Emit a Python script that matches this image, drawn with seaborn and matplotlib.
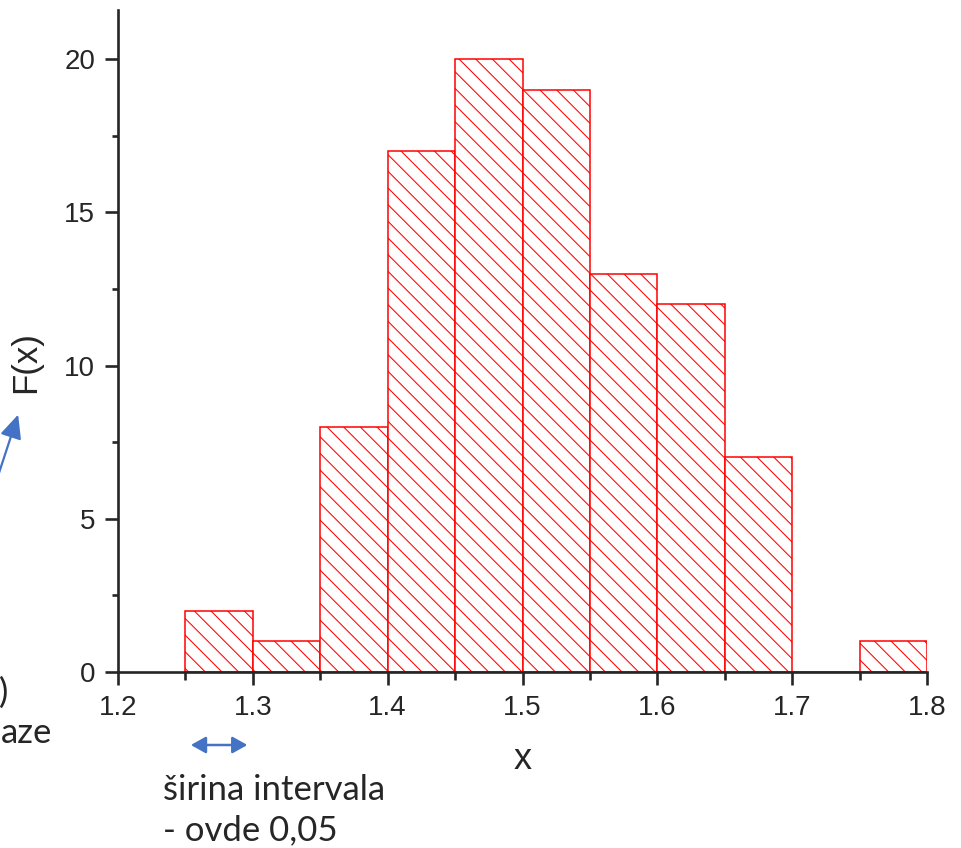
import numpy as np
import pandas as pd
import matplotlib
matplotlib.use('Agg')
import matplotlib.pyplot as plt
import seaborn as sns

sns.set_theme(style="ticks")
plt.rcParams['font.family'] = ['Liberation Sans', 'DejaVu Sans']
plt.rcParams['hatch.color'] = 'red'
plt.rcParams['hatch.linewidth'] = 0.75

# datos: bordes de los intervalos y frecuencias
bordes = [1.25, 1.30, 1.35, 1.40, 1.45, 1.50, 1.55, 1.60, 1.65, 1.70, 1.75, 1.80]
frecuencias = [2, 1, 8, 17, 20, 19, 13, 12, 7, 0, 1]
centros = [(a + b) / 2 for a, b in zip(bordes[:-1], bordes[1:])]

df = pd.DataFrame({'x': centros, 'F': frecuencias})

W, H, DPI = 961, 848, 100
fig = plt.figure(figsize=(W / DPI, H / DPI), dpi=DPI)
ax = fig.add_axes([118 / W, 1 - 672 / H, (927 - 118) / W, (672 - 10) / H])

sns.histplot(data=df, x='x', weights='F', bins=bordes, ax=ax,
             color='white', edgecolor='red', linewidth=1.1, alpha=1,
             hatch='\\\\')

ax.set_xlim(1.2, 1.8)
ax.set_ylim(0, 21.6)
ax.set_xticks([1.2, 1.3, 1.4, 1.5, 1.6, 1.7, 1.8])
ax.set_xticks(np.arange(1.25, 1.8, 0.1), minor=True)
ax.set_yticks([0, 5, 10, 15, 20])
ax.set_yticks([2.5, 7.5, 12.5, 17.5], minor=True)
ax.set_xticklabels(['1.2', '1.3', '1.4', '1.5', '1.6', '1.7', '1.8'])

sns.despine(ax=ax)
for s in ['left', 'bottom']:
    ax.spines[s].set_linewidth(1.9)
ax.tick_params(which='major', length=9.5, width=1.9, labelsize=20, pad=7)
ax.tick_params(which='minor', length=4.5, width=1.9)
ax.tick_params(axis='x', which='minor', length=6)
ax.grid(False)

ax.set_xlabel('x', fontsize=26)
ax.set_ylabel('F(x)', fontsize=25)
ax.xaxis.set_label_coords(0.5, (672 - 742) / (672 - 10), transform=ax.transAxes)
ax.yaxis.set_label_coords((42 - 118) / (927 - 118), (672 - 362) / (672 - 10), transform=ax.transAxes)

azul = '#4472C4'
fuente_txt = ['Lato', 'DejaVu Sans']

# flecha hacia F(x)
ax.annotate('', xy=(19 / W, 1 - 412 / H), xytext=(-4 / W, 1 - 482 / H),
            xycoords='figure fraction', textcoords='figure fraction',
            arrowprops=dict(arrowstyle='-|>,head_length=1.2,head_width=0.55',
                            color=azul, lw=1.6))

# flecha doble: ancho del intervalo
ax.annotate('', xy=(bordes[1] - 0.002, 1 - 745 / H), xytext=(bordes[0] + 0.002, 1 - 745 / H),
            xycoords=('data', 'figure fraction'), textcoords=('data', 'figure fraction'),
            arrowprops=dict(arrowstyle='<|-|>,head_length=0.75,head_width=0.42',
                            color=azul, lw=1.8), annotation_clip=False)

fig.text(163 / W, 1 - 790 / H, 'širina intervala', fontsize=25, family=fuente_txt,
         ha='left', va='center')
fig.text(163 / W, 1 - 830 / H, '- ovde 0,05', fontsize=25, family=fuente_txt,
         ha='left', va='center')

# texto recortado a la izquierda
fig.text(8 / W, 1 - 693 / H, ')', fontsize=25, family=fuente_txt, ha='right', va='center')
fig.text(1 / W, 1 - 733 / H, 'aze', fontsize=25, family=fuente_txt, ha='left', va='center')

fig.savefig('out.png', dpi=DPI)
plt.close()
